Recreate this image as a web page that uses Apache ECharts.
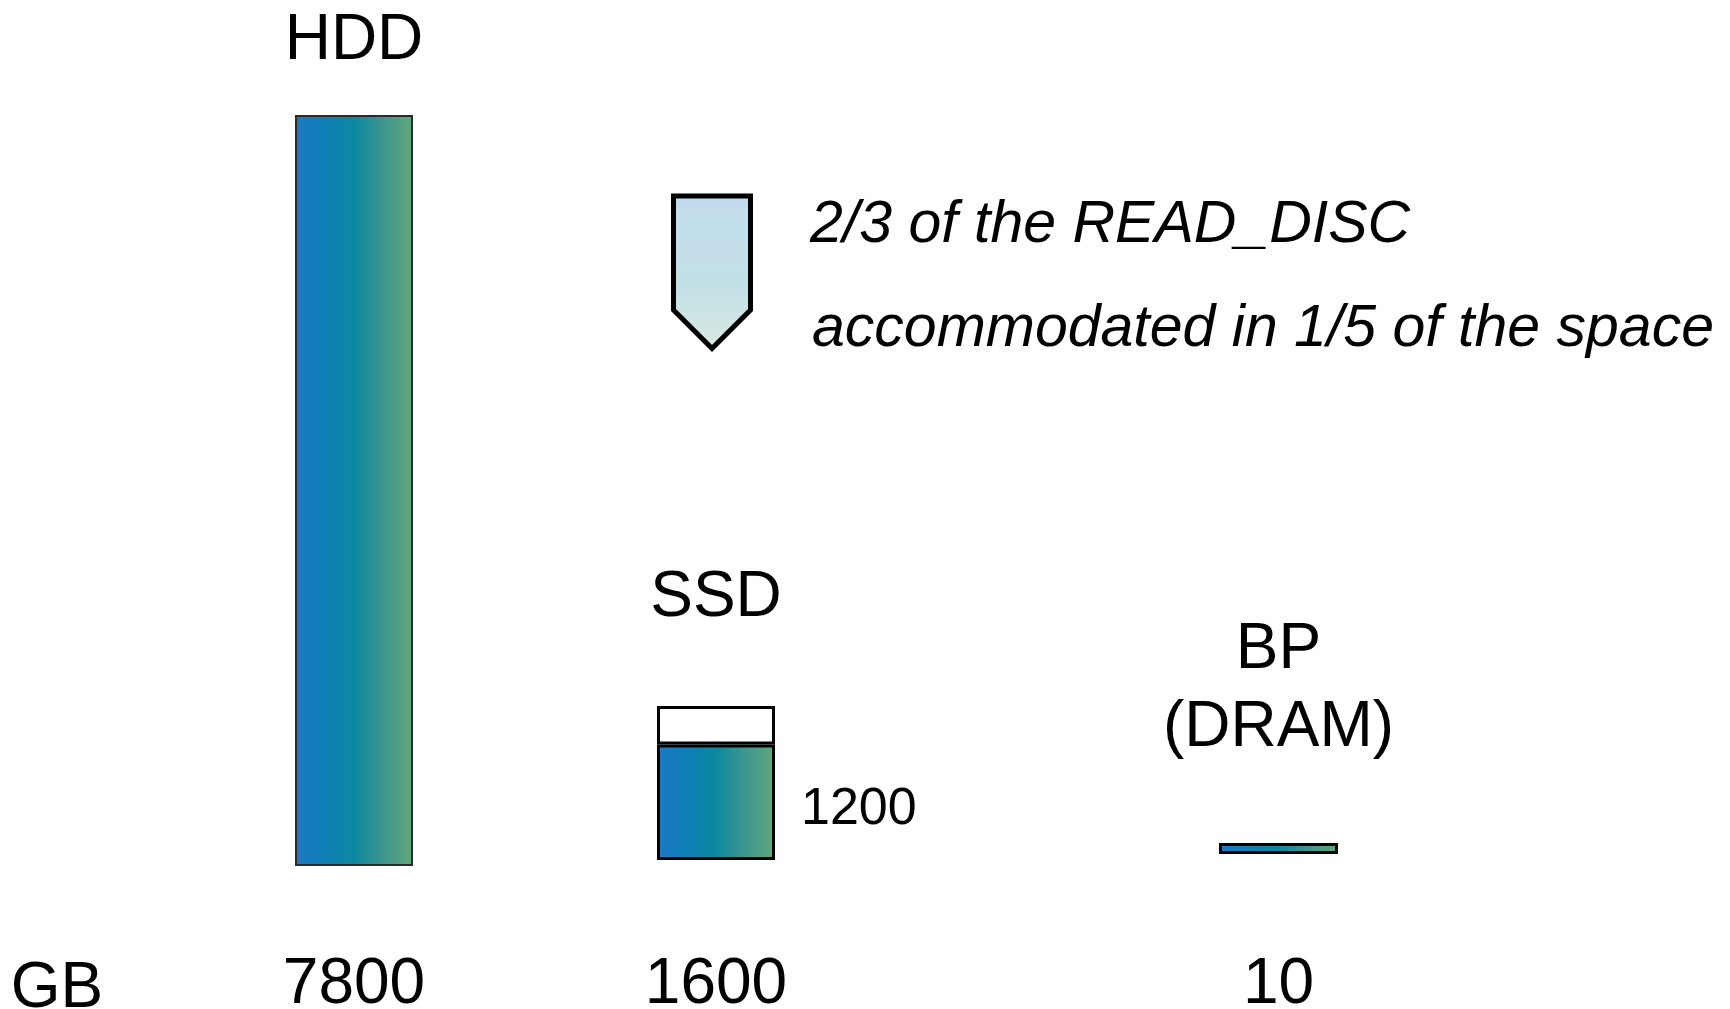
<!DOCTYPE html>
<html>
<head>
<meta charset="utf-8">
<script src="https://cdn.jsdelivr.net/npm/echarts@6/dist/echarts.min.js"></script>
<style>
html,body{margin:0;padding:0;background:#fff;}
#chart{width:1730px;height:1009px;}
</style>
</head>
<body>
<div id="chart"></div>
<script>
// ---- data ----
const categories = ['HDD', 'SSD', 'BP\n(DRAM)'];
const capacityGB = [7800, 1600, 10];
const ssdUsedGB = 1200;
const unitLabel = 'GB';
const annotationLines = ['2/3 of the READ_DISC', 'accommodated in 1/5 of the space'];

// ---- layout / style ----
const FONT = '"Liberation Sans", Arial, sans-serif';
const centers = [354, 716, 1278.5];
const bottoms = [866, 860, 854];
const plotH = 751;
const nameDist = [35, 69, 76];
const labelMargin = [87, 93, 99];
const barW = [118, 118, 119];
const borderW = [2, 3, 3];
const borderC = ['#2a2a2a', '#000', '#000'];

const barGrad = () => new echarts.graphic.LinearGradient(0, 0, 1, 0, [
  {offset: 0, color: '#1c79c4'},
  {offset: 0.25, color: '#0f7fb6'},
  {offset: 0.5, color: '#0b899f'},
  {offset: 0.72, color: '#3a9490'},
  {offset: 1, color: '#62a779'}
]);

const yMax = Math.max(...capacityGB);
const grids = [], xAxes = [], yAxes = [], series = [];

categories.forEach((cat, i) => {
  grids.push({left: centers[i] - 100, width: 200, top: bottoms[i] - plotH, height: plotH, outerBoundsMode: 'none', containLabel: false});
  xAxes.push({
    type: 'category', gridIndex: i, data: [cat],
    axisLine: {show: false}, axisTick: {show: false}, splitLine: {show: false},
    axisLabel: {
      formatter: () => String(capacityGB[i]),
      fontSize: 64, fontFamily: FONT, color: '#000', margin: labelMargin[i]
    }
  });
  yAxes.push({type: 'value', gridIndex: i, min: 0, max: yMax, show: false, splitLine: {show: false}});

  const nameLabel = {
    show: true, position: 'top', distance: nameDist[i],
    formatter: cat, fontSize: 64, lineHeight: 78, fontFamily: FONT, color: '#000'
  };
  const isSSD = cat === 'SSD';
  const filled = isSSD ? ssdUsedGB : capacityGB[i];
  series.push({
    type: 'bar', xAxisIndex: i, yAxisIndex: i, stack: 's' + i,
    barWidth: barW[i], barMinHeight: 11,
    data: [filled],
    itemStyle: {color: barGrad(), borderColor: borderC[i], borderWidth: borderW[i]},
    label: isSSD ? {
      show: true, position: 'right', distance: 26, offset: [0, 7],
      formatter: String(ssdUsedGB), fontSize: 52, fontFamily: FONT, color: '#000'
    } : nameLabel,
    silent: true, animation: false
  });
  if (isSSD) {
    series.push({
      type: 'bar', xAxisIndex: i, yAxisIndex: i, stack: 's' + i,
      barWidth: barW[i],
      data: [capacityGB[i] - ssdUsedGB],
      itemStyle: {color: '#fff', borderColor: '#000', borderWidth: 3},
      label: nameLabel, silent: true, animation: false
    });
  }
});

const chart = echarts.init(document.getElementById('chart'), null, {renderer: 'canvas'});
chart.setOption({
  backgroundColor: '#fff',
  animation: false,
  grid: grids, xAxis: xAxes, yAxis: yAxes, series: series,
  graphic: [
    {type: 'text', style: {text: unitLabel, x: 57, y: 989, fontSize: 64, fontFamily: FONT, fill: '#000', align: 'center', verticalAlign: 'middle'}},
    {type: 'text', style: {text: annotationLines[0], x: 810, y: 226, fontSize: 59, fontStyle: 'italic', fontFamily: FONT, fill: '#000', align: 'left', verticalAlign: 'middle'}},
    {type: 'text', style: {text: annotationLines[1], x: 812, y: 330, fontSize: 59, fontStyle: 'italic', fontFamily: FONT, fill: '#000', align: 'left', verticalAlign: 'middle'}},
    {type: 'polygon', shape: {points: [[673.5, 196], [750.5, 196], [750.5, 310], [712, 348.5], [673.5, 310]]},
     style: {fill: new echarts.graphic.LinearGradient(0, 0, 0, 1, [{offset: 0, color: '#c2dcee'}, {offset: 0.6, color: '#c4e0e6'}, {offset: 1, color: '#d8eae2'}]),
             stroke: '#000', lineWidth: 5, lineJoin: 'miter'}}
  ]
});
</script>
</body>
</html>
